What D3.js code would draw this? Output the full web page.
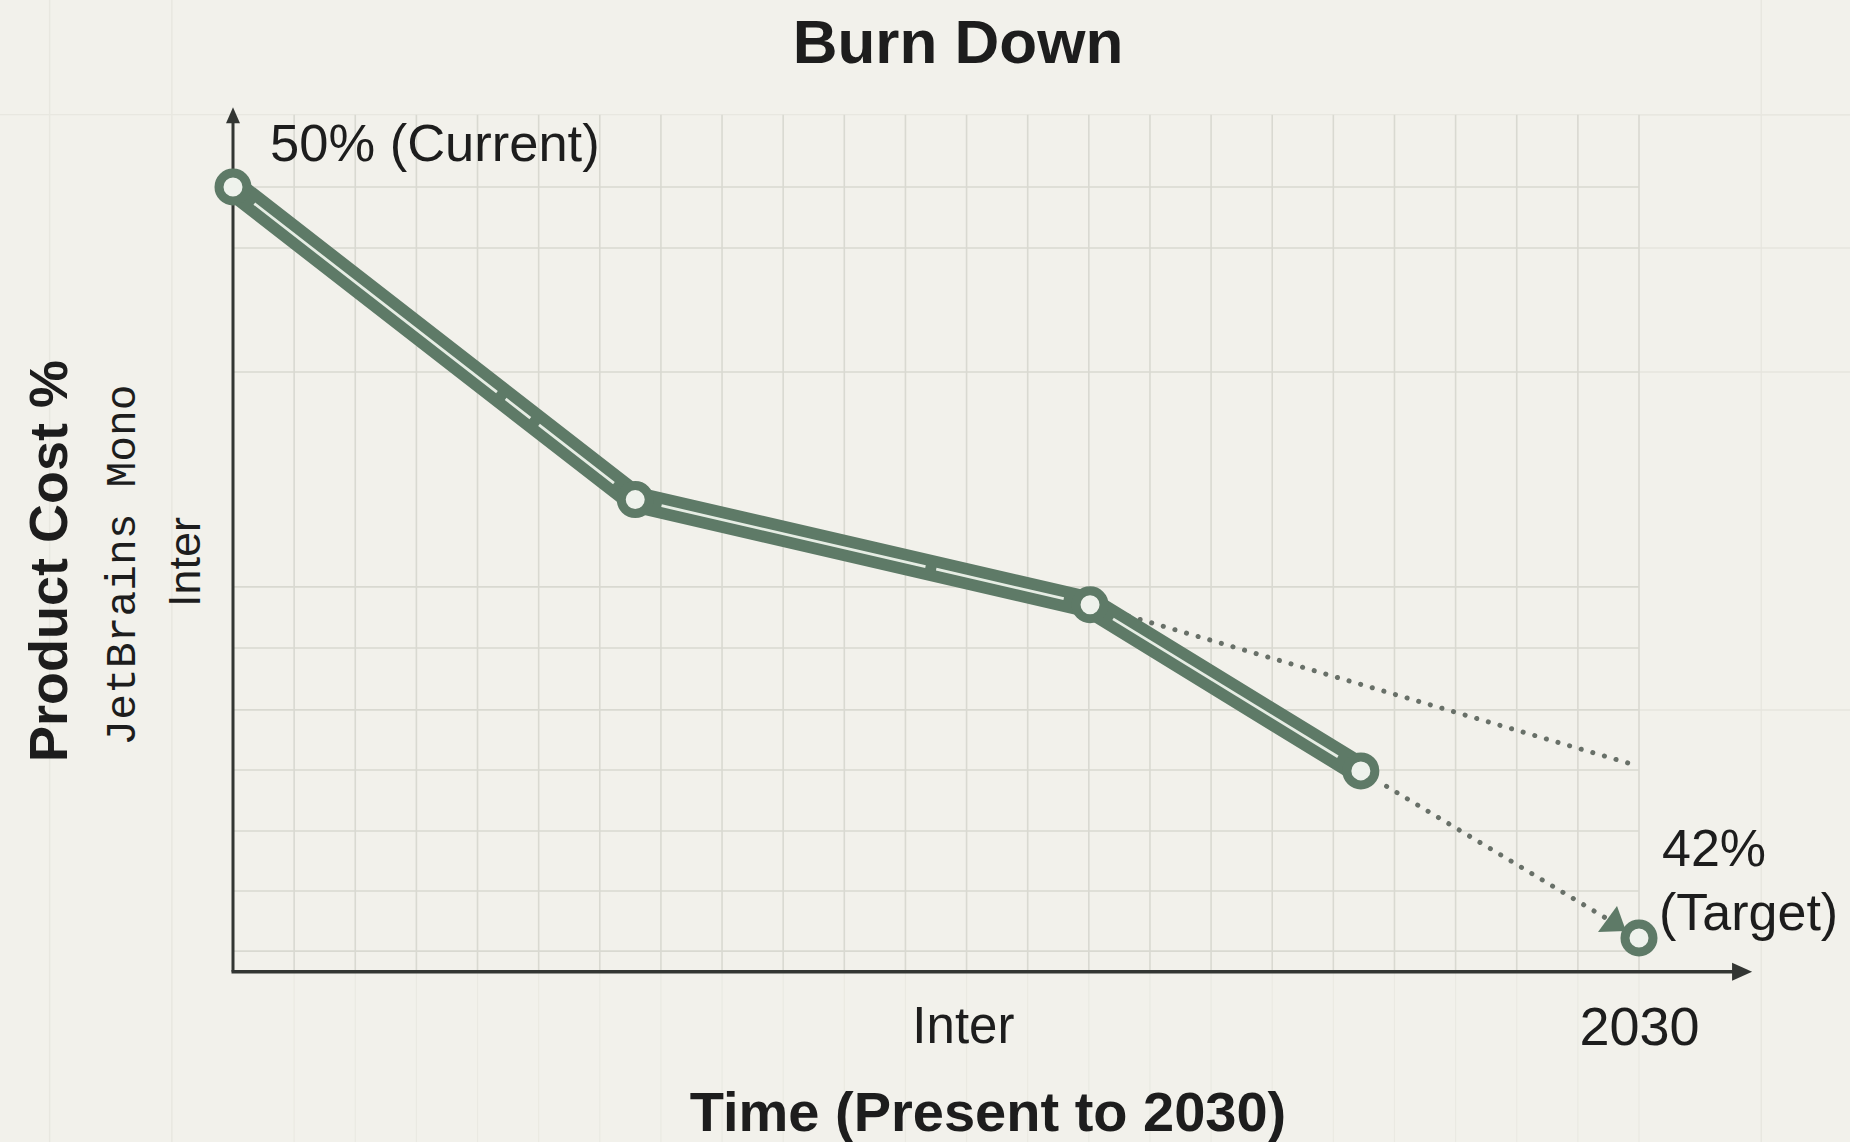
<!DOCTYPE html>
<html>
<head>
<meta charset="utf-8">
<script src="https://cdn.jsdelivr.net/npm/d3@7"></script>
<style>
  html, body { margin: 0; padding: 0; background: #f2f1eb; }
  svg { display: block; }
</style>
</head>
<body>
<script>
// ---------------- data ----------------
const timeSteps   = [0, 6.58, 14.02, 18.45];      // grid-column units (0 = present, 23 = 2030)
const costValues  = [50, 46.67, 45.55, 43.78];     // product cost %
const targetTime  = 23;
const targetValue = 42;
const projectionTimes  = [14.02, 23];              // upper dotted projection
const projectionValues = [45.55, 43.83];
const trendTimes  = [18.45, 23];                   // lower dotted path to target
const trendValues = [43.78, 42];
const gridValues  = [50, 49.35, 48.03, 45.74, 45.09, 44.43, 43.79, 43.14, 42.50, 41.86];
const gridTimes   = [1,2,3,4,5,6,7,8,9,10,11,12,13,14,15,16,17,18,19,20,21,22,23];
const xTickTimes  = [11.94, 23];
const xTickLabels = ["Inter", "2030"];
const currentLabel = "50% (Current)";
const targetLabel  = ["42%", "(Target)"];
const titleText   = "Burn Down";
const xTitle      = "Time (Present to 2030)";
const yTitleLines = ["Product Cost %", "JetBrains Mono", "Inter"];

// ---------------- setup ----------------
const W = 1850, H = 1142;
const green = "#5e7a67";
const ink = "#1d1d1d";
const sans = "'Liberation Sans', Arial, Helvetica, sans-serif";

const x = d3.scaleLinear().domain([0, 23]).range([233, 1639]);
const y = d3.scaleLinear().domain([42, 50]).range([938, 187]);
const yAxisBottom = 41.64, yAxisTop = 50.85, xAxisEnd = 24.85;

const svg = d3.select("body").append("svg").attr("width", W).attr("height", H);
svg.append("rect").attr("width", W).attr("height", H).attr("fill", "#f2f1eb");

// faint page grid
const pageCols = [-3, -1, 25, 27];
svg.append("g").selectAll("line").data(pageCols).join("line")
  .attr("x1", d => x(d)).attr("x2", d => x(d))
  .attr("y1", 0).attr("y2", H)
  .attr("stroke", "#e8e7e0").attr("stroke-width", 1.5);
svg.append("g").selectAll("line").data(d3.range(1, 24)).join("line")
  .attr("x1", d => x(d)).attr("x2", d => x(d))
  .attr("y1", y(yAxisBottom)).attr("y2", H)
  .attr("stroke", "#eae9e2").attr("stroke-width", 1.2);
svg.append("g").selectAll("line").data([50.77, 49.35, 48.03, 44.43]).join("line")
  .attr("x1", x(23)).attr("x2", W)
  .attr("y1", d => y(d)).attr("y2", d => y(d))
  .attr("stroke", "#e6e5de").attr("stroke-width", 1.5);
svg.append("line").attr("x1", 0).attr("x2", W)
  .attr("y1", y(50.77)).attr("y2", y(50.77))
  .attr("stroke", "#e8e7e0").attr("stroke-width", 1.2);

// plot grid
const grid = svg.append("g");
grid.selectAll("line.v").data(gridTimes).join("line").attr("class", "v")
  .attr("x1", d => x(d)).attr("x2", d => x(d))
  .attr("y1", y(50.77)).attr("y2", y(yAxisBottom))
  .attr("stroke", "#d9d9d1").attr("stroke-width", 1.6);
grid.selectAll("line.h").data(gridValues).join("line").attr("class", "h")
  .attr("x1", x(0)).attr("x2", x(23))
  .attr("y1", d => y(d)).attr("y2", d => y(d))
  .attr("stroke", "#d9d9d1").attr("stroke-width", 1.6);

// axes
const axisColor = "#333633";
svg.append("line")
  .attr("x1", x(0)).attr("x2", x(0))
  .attr("y1", y(yAxisBottom)).attr("y2", y(yAxisTop) + 10)
  .attr("stroke", axisColor).attr("stroke-width", 3);
svg.append("path")
  .attr("d", `M${x(0)},${y(yAxisTop)} l-7,16 l14,0 z`)
  .attr("fill", axisColor);
svg.append("line")
  .attr("x1", x(0) - 1.5).attr("x2", x(xAxisEnd) - 10)
  .attr("y1", y(yAxisBottom)).attr("y2", y(yAxisBottom))
  .attr("stroke", axisColor).attr("stroke-width", 3.5);
svg.append("path")
  .attr("d", `M${x(xAxisEnd)},${y(yAxisBottom)} l-20,-9 l0,18 z`)
  .attr("fill", axisColor);

// x tick labels via d3 axis
const xAxis = d3.axisBottom(x).tickValues(xTickTimes)
  .tickFormat((d, i) => xTickLabels[i]).tickSize(0).tickPadding(35);
const xg = svg.append("g").attr("transform", `translate(0,${y(yAxisBottom)})`).call(xAxis);
xg.select(".domain").remove();
xg.selectAll("text").attr("font-family", sans).attr("font-size", (d, i) => i === 1 ? 54 : 51).attr("fill", ink);

// dotted projections
const lineGen = d3.line().x(d => x(d[0])).y(d => y(d[1]));
const projPts = projectionTimes.map((t, i) => [t, projectionValues[i]]);
const trendPts = trendTimes.map((t, i) => [t, trendValues[i]]);
function trimmed(pts, startCut, endCut) {
  const [a, b] = pts;
  const ax = x(a[0]), ay = y(a[1]), bx = x(b[0]), by = y(b[1]);
  const len = Math.hypot(bx - ax, by - ay);
  const ux = (bx - ax) / len, uy = (by - ay) / len;
  return `M${ax + ux * startCut},${ay + uy * startCut}L${bx - ux * endCut},${by - uy * endCut}`;
}
svg.append("path").attr("d", trimmed(projPts, 40, 0))
  .attr("fill", "none").attr("stroke", "#687068").attr("stroke-width", 5)
  .attr("stroke-linecap", "round").attr("stroke-dasharray", "0.1 12");
svg.append("path").attr("d", trimmed(trendPts, 30, 36))
  .attr("fill", "none").attr("stroke", "#687068").attr("stroke-width", 5)
  .attr("stroke-linecap", "round").attr("stroke-dasharray", "0.1 12");

// main burn-down line
const pts = timeSteps.map((t, i) => [t, costValues[i]]);
svg.append("path").attr("d", lineGen(pts))
  .attr("fill", "none").attr("stroke", green).attr("stroke-width", 26)
  .attr("stroke-linejoin", "round").attr("stroke-linecap", "round");

// inner highlight line per segment with small breaks
const segmentGaps = [[0.667, 0.75], [0.65], []];
for (let i = 0; i < pts.length - 1; i++) {
  const ax = x(pts[i][0]), ay = y(pts[i][1]);
  const bx = x(pts[i + 1][0]), by = y(pts[i + 1][1]);
  const len = Math.hypot(bx - ax, by - ay);
  const cut = 27;
  const usable = len - 2 * cut;
  const gapLen = 11;
  let dash = [];
  let pos = 0;
  segmentGaps[i].forEach(f => {
    const g = f * len - cut;
    dash.push(g - pos - gapLen / 2, gapLen);
    pos = g + gapLen / 2;
  });
  dash.push(usable - pos + 1, 1000);
  svg.append("path").attr("d", trimmed([pts[i], pts[i + 1]], cut, cut))
    .attr("fill", "none").attr("stroke", "#e6ede4").attr("stroke-width", 2.8)
    .attr("stroke-dasharray", dash.join(" "));
}

// point markers
const allPts = pts.concat([[targetTime, targetValue]]);
svg.append("g").selectAll("circle").data(allPts).join("circle")
  .attr("cx", d => x(d[0])).attr("cy", d => y(d[1]))
  .attr("r", 14).attr("fill", "#eef2ec")
  .attr("stroke", green).attr("stroke-width", 9);

// small arrow tip near the target
const tx = x(targetTime) - 26, ty = y(targetValue) - 15;
svg.append("path")
  .attr("d", `M${tx + 4},${ty - 17} L${tx - 15},${ty + 9} L${tx + 13},${ty + 8} Z`)
  .attr("fill", green);

// annotations
svg.append("text").attr("x", x(0) + 37).attr("y", 161)
  .attr("font-family", sans).attr("font-size", 52.5).attr("fill", ink)
  .text(currentLabel);
const tl = svg.append("text").attr("font-family", sans).attr("font-size", 52).attr("fill", ink);
tl.append("tspan").attr("x", 1662).attr("y", 866).text(targetLabel[0]);
tl.append("tspan").attr("x", 1659).attr("y", 930).text(targetLabel[1]);

// title
svg.append("text").attr("x", 958).attr("y", 63).attr("text-anchor", "middle")
  .attr("font-family", sans).attr("font-weight", "bold").attr("font-size", 62)
  .attr("fill", ink).text(titleText);

// x title
svg.append("text").attr("x", 988).attr("y", 1131).attr("text-anchor", "middle")
  .attr("font-family", sans).attr("font-weight", "bold").attr("font-size", 56)
  .attr("fill", ink).text(xTitle);

// y titles (rotated)
const yTitleStyles = [
  { x: 67, y: 561, size: 54, weight: "bold", family: sans },
  { x: 135, y: 565, size: 43, weight: "normal", family: "'Liberation Mono', 'DejaVu Sans Mono', monospace" },
  { x: 200, y: 562, size: 45, weight: "normal", family: sans }
];
yTitleLines.forEach((t, i) => {
  const s = yTitleStyles[i];
  svg.append("text")
    .attr("transform", `translate(${s.x},${s.y}) rotate(-90)`)
    .attr("text-anchor", "middle")
    .attr("font-family", s.family).attr("font-weight", s.weight)
    .attr("font-size", s.size).attr("fill", ink).text(t);
});
</script>
</body>
</html>
